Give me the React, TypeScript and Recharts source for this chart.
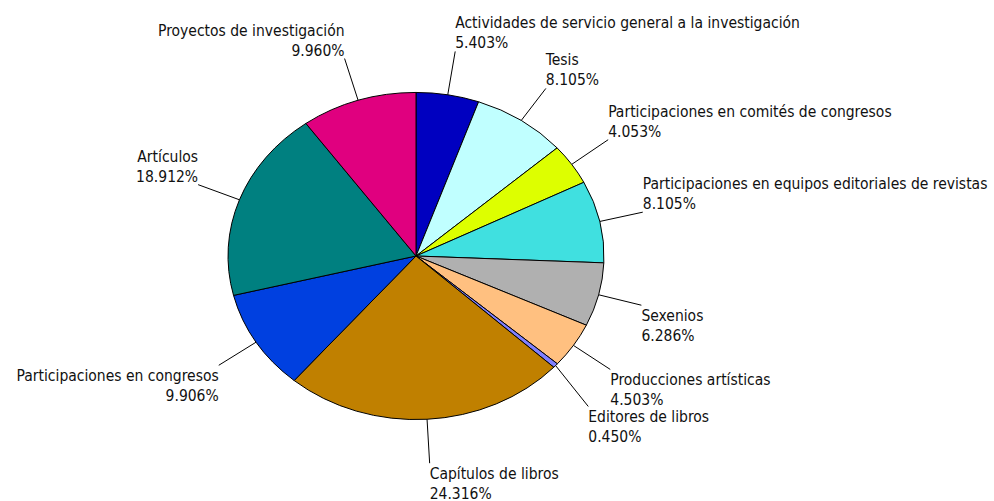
import React from 'react';
import { PieChart, Pie, Cell } from 'recharts';

const categories = [
  'Actividades de servicio general a la investigación',
  'Tesis',
  'Participaciones en comités de congresos',
  'Participaciones en equipos editoriales de revistas',
  'Sexenios',
  'Producciones artísticas',
  'Editores de libros',
  'Capítulos de libros',
  'Participaciones en congresos',
  'Artículos',
  'Proyectos de investigación',
];

const percentages = [5.403, 8.105, 4.053, 8.105, 6.286, 4.503, 0.45, 24.316, 9.906, 18.912, 9.96];

const colors = [
  '#0000C0', '#C0FFFF', '#DDFF00', '#40E0E0', '#B0B0B0', '#FFC080',
  '#8080FF', '#C08000', '#0040E0', '#008080', '#E0007F',
];

const data = categories.map((name, i) => ({ name, value: percentages[i] }));

const CX = 416;
const CY = 256;
const R = 188;
const SQUASH = 0.87;
const LEADER = 44;
const BLOCK = 37;
const FONT = '"DejaVu Sans Condensed", "DejaVu Sans", sans-serif';
const FONT_SIZE = 15.5;

// Label end-point layout, derived from the data (collision avoidance on each side)
const total = percentages.reduce((a, b) => a + b, 0);
const layout = (() => {
  let cum = 0;
  const items = percentages.map((v) => {
    const mid = 90 - ((cum + v / 2) / total) * 360;
    cum += v;
    const rad = (mid * Math.PI) / 180;
    const c = Math.cos(rad);
    const s = Math.sin(rad);
    const ly = CY - R * SQUASH * s - LEADER * s;
    return { c, s, ly };
  });
  // right side: indices in order go top -> bottom
  let prev = -Infinity;
  items.forEach((it) => {
    if (it.c >= 0) {
      if (it.ly < prev + BLOCK) it.ly = prev + BLOCK;
      prev = it.ly;
    }
  });
  // left side: indices in order go bottom -> top
  let prevL = Infinity;
  items.forEach((it) => {
    if (it.c < 0) {
      if (it.ly > prevL - BLOCK) it.ly = prevL - BLOCK;
      prevL = it.ly;
    }
  });
  return items;
})();

const renderLabel = (props: any) => {
  const { cx, cy, midAngle, outerRadius, name, value, index } = props;
  const rad = (midAngle * Math.PI) / 180;
  const c = Math.cos(rad);
  const s = Math.sin(rad);
  const ex = cx + outerRadius * c;
  const ey = cy - outerRadius * SQUASH * s;
  const lx = ex + LEADER * c;
  const ly = layout[index] ? layout[index].ly : ey - LEADER * s;
  const right = c >= 0;
  const upper = s > 0;
  const anchor = right ? 'start' : 'end';
  const b1 = upper ? ly - 23 : ly + 16;
  const b2 = upper ? ly - 3 : ly + 36;
  return (
    <g>
      <line x1={ex} y1={ey} x2={lx} y2={ly} stroke="#000" strokeWidth={1} />
      <text x={lx} y={b1} textAnchor={anchor} fill="#111" fontSize={FONT_SIZE} fontFamily={FONT}>
        {name}
      </text>
      <text x={lx} y={b2} textAnchor={anchor} fill="#111" fontSize={FONT_SIZE} fontFamily={FONT}>
        {Number(value).toFixed(3) + '%'}
      </text>
    </g>
  );
};

export default function App() {
  return (
    <div style={{ position: 'absolute', left: 0, top: 0, width: 994, height: 501, background: '#fff' }}>
      <style>{`.recharts-pie-sector { transform: scaleY(${SQUASH}); transform-origin: ${CX}px ${CY}px; }
      .recharts-pie-sector path { vector-effect: non-scaling-stroke; }`}</style>
      <PieChart width={994} height={501} margin={{ top: 0, right: 0, bottom: 0, left: 0 }}>
        <Pie
          data={data}
          dataKey="value"
          nameKey="name"
          cx={CX}
          cy={CY}
          outerRadius={R}
          startAngle={90}
          endAngle={-270}
          stroke="#000"
          strokeWidth={1}
          label={renderLabel}
          labelLine={false}
          isAnimationActive={false}
        >
          {data.map((d, i) => (
            <Cell key={d.name} fill={colors[i]} />
          ))}
        </Pie>
      </PieChart>
    </div>
  );
}
